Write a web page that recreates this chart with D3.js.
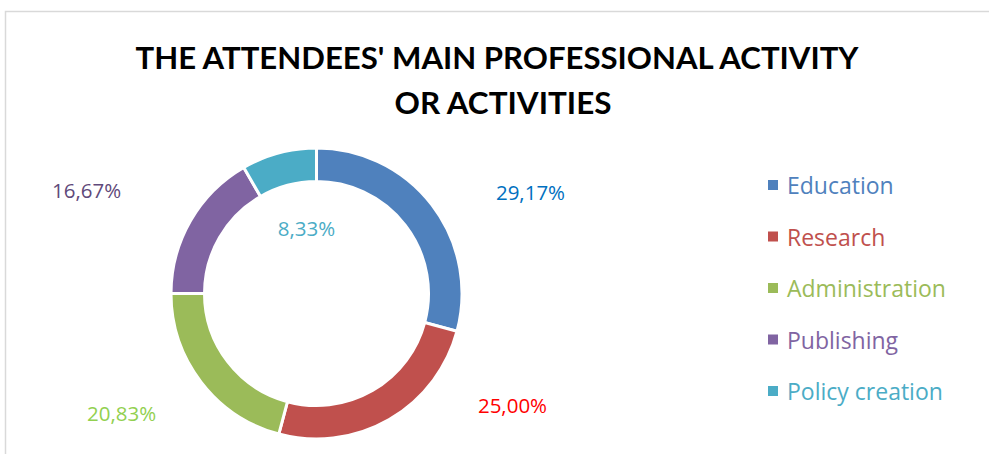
<!DOCTYPE html>
<html>
<head>
<meta charset="utf-8">
<script src="https://cdn.jsdelivr.net/npm/d3@7"></script>
<style>
  body { margin: 0; background: #fff; }
  svg { display: block; font-family: "Open Sans", Lato, sans-serif; }
</style>
</head>
<body>
<svg id="chart" width="989" height="454"></svg>
<script>
// data
const categories = ['Education', 'Research', 'Administration', 'Publishing', 'Policy creation'];
const values = [29.17, 25.00, 20.83, 16.67, 8.33];
const sliceColors = ['#4F81BD', '#C0504D', '#9BBB59', '#8064A2', '#4BACC6'];
const labelColors = ['#0070C0', '#FF0000', '#92D050', '#5F497A', '#4BACC6'];
// label anchor points (relative to donut centre)
const labelOffsets = [[214, -102], [196, 111], [-195, 119], [-230, -104], [-10, -66]];

const svg = d3.select('#chart');
const W = 989, H = 454;

// chart frame
svg.append('path')
  .attr('d', `M5.5,${H} V11.5 H${W}`)
  .attr('fill', 'none')
  .attr('stroke', '#d9d9d9')
  .attr('stroke-width', 1.5);

// title (Calibri-ish: squeeze Lato a bit to fit the original width)
const title = svg.append('text')
  .attr('text-anchor', 'middle')
  .attr('font-family', 'Lato, sans-serif')
  .attr('font-weight', 'bold')
  .attr('font-size', 31)
  .attr('fill', '#000');
title.append('tspan').attr('x', 497).attr('y', 69)
  .attr('textLength', 723).attr('lengthAdjust', 'spacingAndGlyphs')
  .text("THE ATTENDEES' MAIN PROFESSIONAL ACTIVITY");
title.append('tspan').attr('x', 503).attr('y', 114)
  .attr('textLength', 217).attr('lengthAdjust', 'spacingAndGlyphs')
  .text('OR ACTIVITIES');

// donut
const cx = 316.5, cy = 293.5;
const pie = d3.pie().sort(null).value(d => d);
const arc = d3.arc().innerRadius(112).outerRadius(145.5);

const g = svg.append('g').attr('transform', `translate(${cx},${cy})`);
g.selectAll('path')
  .data(pie(values))
  .join('path')
  .attr('d', arc)
  .attr('fill', (d, i) => sliceColors[i])
  .attr('stroke', '#fff')
  .attr('stroke-width', 3);

const fmt = v => v.toFixed(2).replace('.', ',') + '%';
g.selectAll('text.lbl')
  .data(values)
  .join('text')
  .attr('class', 'lbl')
  .attr('x', (d, i) => labelOffsets[i][0])
  .attr('y', (d, i) => labelOffsets[i][1])
  .attr('text-anchor', 'middle')
  .attr('dominant-baseline', 'central')
  .attr('font-size', 20.5)
  .attr('fill', (d, i) => labelColors[i])
  .text(fmt);

// legend
const legendY = d3.scalePoint().domain(categories).range([185, 391]);
const leg = svg.append('g').selectAll('g')
  .data(categories)
  .join('g')
  .attr('transform', d => `translate(768,${legendY(d)})`);
leg.append('rect')
  .attr('x', 0).attr('y', -5)
  .attr('width', 10).attr('height', 10)
  .attr('fill', (d, i) => sliceColors[i]);
leg.append('text')
  .attr('x', 19)
  .attr('dominant-baseline', 'central')
  .attr('font-size', 23)
  .attr('fill', (d, i) => sliceColors[i])
  .text(d => d);
</script>
</body>
</html>
